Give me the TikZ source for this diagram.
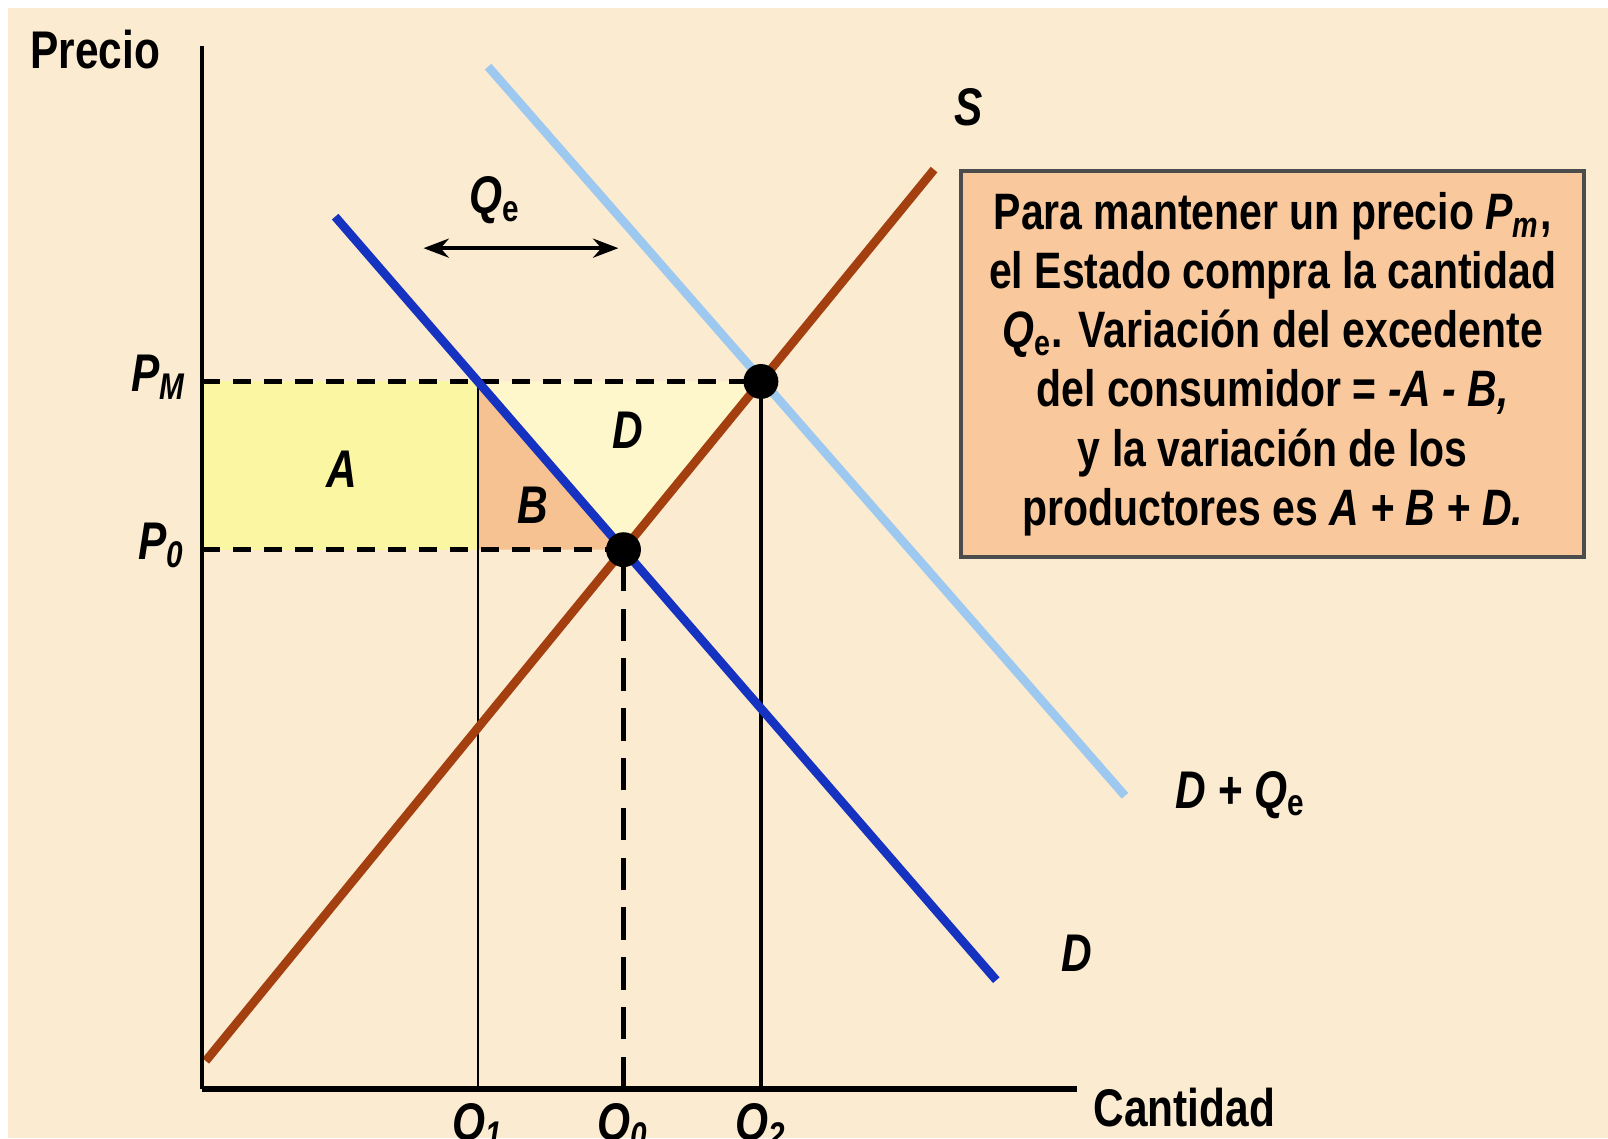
\documentclass[tikz,border=0pt]{standalone}
\usepackage{fontspec}
\setmainfont{Liberation Sans}[FakeStretch=0.8]
\usepackage{xcolor}
\usetikzlibrary{calc, arrows.meta}

\definecolor{fondo}{HTML}{FBEBD1}
\definecolor{oferta}{HTML}{A4400F}
\definecolor{demanda}{HTML}{1632C0}
\definecolor{demandaplus}{HTML}{9DC8F0}
\definecolor{zonaA}{HTML}{FAF6A2}
\definecolor{zonaB}{HTML}{F6C291}
\definecolor{zonaD}{HTML}{FEF7CC}
\definecolor{caja}{HTML}{F9C99D}

\newcommand{\magn}[2]{\textit{#1}\textsubscript{#2}}

\tikzset{
	curve/.style = {line width = 2.4pt},
	guide/.style = {line width = 1.3pt, dash pattern = on 5pt off 3.6pt},
	label/.style = {font = \fontsize{14.7}{16.4}\selectfont\bfseries, inner sep = 0pt}
}

\begin{document}
\begin{tikzpicture}[x = 0.01cm, y = -0.01cm]
		%background
		\fill[white] (0,0) rectangle (1568,1110);
		\fill[fondo] (8,8) rectangle (1568,1110);
		\useasboundingbox (0,0) rectangle (1568,1110);
		
		%definition of origin
		\coordinate (O) at (197,1062);
		
		%points
		\coordinate (PM) at (197,372);
		\coordinate (P0) at (197,536);
		\coordinate (C1) at (466,372);
		\coordinate (C0) at (466,536);
		\coordinate (E0) at (608,536);
		\coordinate (E2) at (742,372);
		\coordinate (Q1) at (C1 |- O);
		\coordinate (Q0) at (E0 |- O);
		\coordinate (Q2) at (E2 |- O);
		
		%surplus areas
		\fill[zonaA] (PM) rectangle (C0);
		\fill[zonaB] (C1) -- (C0) -- (E0) -- cycle;
		\fill[zonaD] (C1) -- (E2) -- (E0) -- cycle;
		
		\node[label] (A) at (333,458) {\textit{A}};
		\node[label] (B) at (520,493) {\textit{B}};
		\node[label] (Dz) at (612,420) {\textit{D}};
		
		%guides
		\draw[guide] (PM) -- (E2);
		\draw[guide] (P0) -- (E0);
		\draw[line width = 0.5pt] (Q1) -- (C1);
		\draw[line width = 1.3pt, dash pattern = on 9pt off 4.8pt] (Q0) -- (E0);
		\draw[line width = 0.9pt] (Q2) -- (E2);
		
		%curves
		\draw[curve, demandaplus] ($(E2)+(-266,-307)$) -- ($(E2)+(355,404)$);
		\draw[curve, oferta] ($(E0)!-3.04!(E2)$) -- ($(E0)!2.26!(E2)$);
		\draw[curve, demanda] ($(C1)!-0.98!(E0)$) -- ($(C1)!3.56!(E0)$);
		
		\fill (E0) circle [radius = 17];
		\fill (E2) circle [radius = 17];
		
		%axes
		\draw[line width = 1.1pt] (O) -- (197,45);
		\draw[line width = 1.8pt] (O) -- (1050,1062);
		
		\node[label] (precio) at (93,48) {Precio};
		\node[label] (cantidad) at (1155,1080) {Cantidad};
		\node[label, anchor = east] (pm) at (183,368) {\magn{P}{\textit{M}}};
		\node[label, anchor = east] (p0) at (181,532) {\magn{P}{\textit{0}}};
		\node[label, anchor = north] (q1) at (Q1 |- 0,1075) {\magn{Q}{\textit{1}}};
		\node[label, anchor = north] (q0) at (Q0 |- 0,1075) {\magn{Q}{\textit{0}}};
		\node[label, anchor = north] (q2) at (Q2 |- 0,1075) {\magn{Q}{\textit{2}}};
		
		\node[label] (S) at (945,105) {\textit{S}};
		\node[label] (Dl) at (1050,930) {\textit{D}};
		\node[label] (DQ) at (1210,775) {\textit{D} + \magn{Q}{e}};
		
		%movement
		\coordinate (qa) at (413,242);
		\coordinate (qb) at (603,242);
		\draw[{Stealth[length=7pt]}-{Stealth[length=7pt]}, line width = 1.2pt] (qa) -- (qb);
		\node[label] (Qe) at (483,195) {\magn{Q}{e}};
		
		%explanation
		\node[label, font = \fontsize{14.2}{16.4}\selectfont\bfseries, draw = black!70,
			line width = 1.2pt, fill = caja, align = center,
			minimum width = 6.07cm, minimum height = 3.76cm] (box) at (1241,355)
			{Para mantener un precio \magn{P}{\textit{m}},\\
			el Estado compra la cantidad\\
			\magn{Q}{e}. Variación del excedente\\
			del consumidor = \textit{-A - B,}\\
			y la variación de los\\
			productores es \textit{A + B + D.}};

	\end{tikzpicture}
\end{document}
